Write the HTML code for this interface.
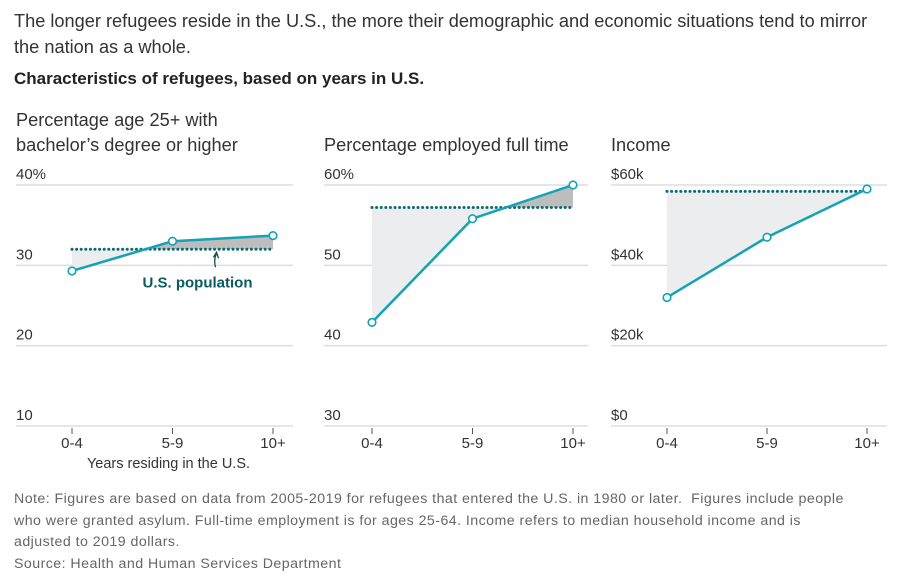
<!DOCTYPE html>
<html><head><meta charset="utf-8">
<style>
body{margin:0;background:#fff;font-family:"Liberation Sans",sans-serif;color:#333;}
#wrap{position:relative;width:915px;height:577px;overflow:hidden;}
.t{position:absolute;white-space:nowrap;}
</style></head><body>
<div id="wrap">
<div class="t" style="left:14px;top:8px;font-size:18.2px;line-height:26px;color:#333;">The longer refugees reside in the U.S., the more their demographic and economic situations tend to mirror<br>the nation as a whole.</div>
<div class="t" style="left:14px;top:69px;font-size:17px;font-weight:bold;color:#222;">Characteristics of refugees, based on years in U.S.</div>
<svg id="svg" width="915" height="577" style="position:absolute;left:0;top:0"></svg>
<div class="t" style="left:14px;top:489px;font-size:14.2px;letter-spacing:0.45px;line-height:21.5px;color:#666;">Note: Figures are based on data from 2005-2019 for refugees that entered the U.S. in 1980 or later.&nbsp; Figures include people<br>who were granted asylum. Full-time employment is for ages 25-64. Income refers to median household income and is<br>adjusted to 2019 dollars.<br>Source: Health and Human Services Department</div>
</div>
<script>
const categories=["0-4","5-9","10+"];
const bachelorValues=[29.3,33.0,33.7];
const bachelorUS=32.0;
const employedValues=[42.9,55.8,60.0];
const employedUS=57.2;
const incomeValues=[32,47,59];
const incomeUS=58.4;
const bachelorTicks=[10,20,30,40];
const employedTicks=[30,40,50,60];
const incomeTicks=[0,20,40,60];
const bachelorTickLabels=["10","20","30","40%"];
const employedTickLabels=["30","40","50","60%"];
const incomeTickLabels=["$0","$20k","$40k","$60k"];

const NS="http://www.w3.org/2000/svg";
const svg=document.getElementById('svg');
function mk(tag,attrs,parent){const e=document.createElementNS(NS,tag);for(const k in attrs)e.setAttribute(k,attrs[k]);(parent||svg).appendChild(e);return e;}
const yTop=185,yBot=426;
const panels=[
 {id:'bachelor',gx0:16,gx1:293,px0:72,px1:273,ticks:bachelorTicks,labels:bachelorTickLabels,vals:bachelorValues,us:bachelorUS,title:["Percentage age 25+ with","bachelor’s degree or higher"]},
 {id:'employed',gx0:324,gx1:588,px0:372,px1:573,ticks:employedTicks,labels:employedTickLabels,vals:employedValues,us:employedUS,title:["Percentage employed full time"]},
 {id:'income',gx0:611,gx1:887,px0:667,px1:867,ticks:incomeTicks,labels:incomeTickLabels,vals:incomeValues,us:incomeUS,title:["Income"]}
];
panels.forEach((p,pi)=>{
 const g=mk('g',{});
 
 
 const min=p.ticks[0],max=p.ticks[p.ticks.length-1];
 const y=v=>yBot-(v-min)/(max-min)*(yBot-yTop);
 const x=i=>p.px0+i*(p.px1-p.px0)/(categories.length-1);
 p.title.forEach((t,i)=>{
  const tt=mk('text',{x:p.gx0,y:p.title.length==2?126+i*25:151,'font-size':'18.2',fill:'#333'},g);tt.textContent=t;
  
  
 });
 p.ticks.forEach((tv,i)=>{
  const l=mk('line',{x1:p.gx0,x2:p.gx1,y1:y(tv),y2:y(tv),stroke:'#ddd','stroke-width':1.5},g);
  
  
  const tx=mk('text',{x:p.gx0,y:y(tv)-6,'font-size':'15',fill:'#333'},g);tx.textContent=p.labels[i];
  
  
 });
 categories.forEach((c,i)=>{
  mk('line',{x1:x(i),x2:x(i),y1:yBot+2,y2:yBot+8,stroke:'#555','stroke-width':1},g);
  const tx=mk('text',{x:x(i),y:yBot+22,'font-size':'15','text-anchor':'middle',fill:'#333'},g);tx.textContent=c;
  
  
 });
 const uy=y(p.us);
 let poly=p.vals.map((v,i)=>x(i)+','+y(v)).join(' ')+' '+x(2)+','+uy+' '+x(0)+','+uy;
 mk('clipPath',{id:'ca'+pi},g).appendChild(mk('rect',{x:0,y:0,width:915,height:uy},g));
 mk('clipPath',{id:'cb'+pi},g).appendChild(mk('rect',{x:0,y:uy,width:915,height:577},g));
 const a1=mk('polygon',{points:poly,fill:'#bdbdbd','clip-path':'url(#ca'+pi+')'},g);
 
 
 const a2=mk('polygon',{points:poly,fill:'#ecedee','clip-path':'url(#cb'+pi+')'},g);
 
 
 const ul=mk('line',{x1:x(0),x2:x(2),y1:uy,y2:uy,stroke:'#0a6a6e','stroke-width':3,'stroke-dasharray':'0 4.6','stroke-linecap':'round'},g);
 
 
 const ln=mk('polyline',{points:p.vals.map((v,i)=>x(i)+','+y(v)).join(' '),fill:'none',stroke:'#14a3b4','stroke-width':2.5},g);
 
 
 p.vals.forEach((v,i)=>{
  const c=mk('circle',{cx:x(i),cy:y(v),r:3.8,fill:'#fff',stroke:'#14a3b4','stroke-width':1.6},g);
  
  
 });
 if(pi===0){
  mk('path',{d:`M ${x(1)+43} ${uy+18} Q ${x(1)+41} ${uy+10} ${x(1)+44} ${uy+4}`,fill:'none',stroke:'#0a4f55','stroke-width':1.3},g);
  mk('path',{d:`M ${x(1)+41} ${uy+8} L ${x(1)+44} ${uy+3} L ${x(1)+46} ${uy+9}`,fill:'none',stroke:'#0a4f55','stroke-width':1.3},g);
  const ann=mk('text',{x:x(1)+25,y:uy+38,'font-size':'15','font-weight':'bold','text-anchor':'middle',fill:'#0a5a60'},g);ann.textContent='U.S. population';
  
  
  const xt=mk('text',{x:x(1)-4,y:yBot+42,'font-size':'14.5','text-anchor':'middle',fill:'#333'},g);xt.textContent='Years residing in the U.S.';
  
  
 }
});
</script>
</body></html>
